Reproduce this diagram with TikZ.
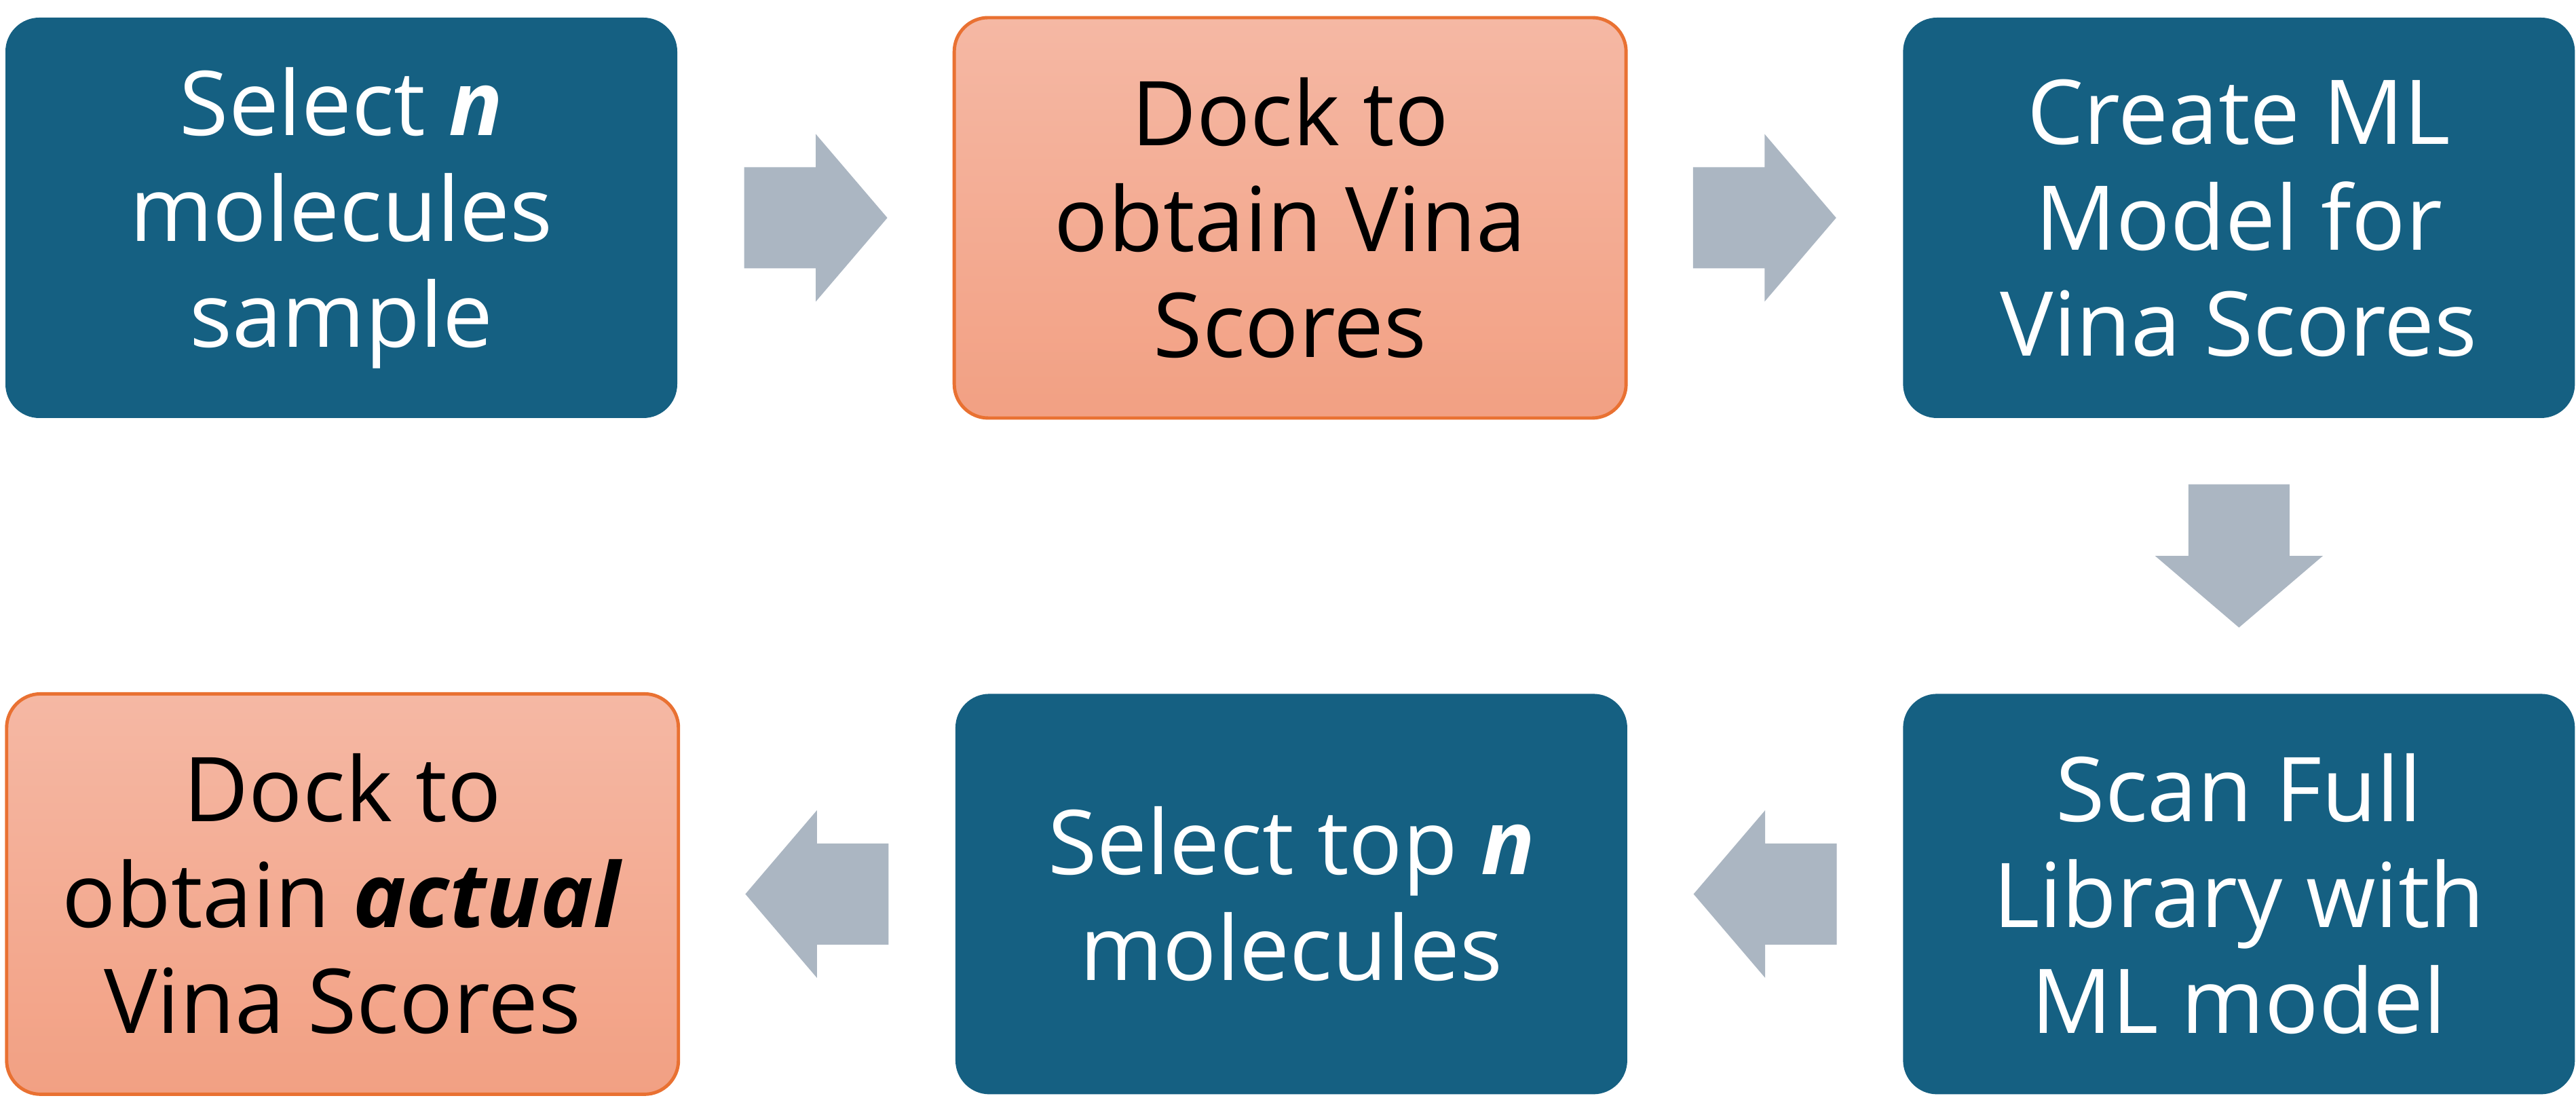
\documentclass[tikz,border=0pt]{standalone}
\usepackage{fontspec}
\setmainfont{Open Sans}
\usepackage{tikz}
\usetikzlibrary{positioning, calc}
\definecolor{sblue}{HTML}{156082}
\definecolor{sorange}{HTML}{E97132}
\definecolor{speachtop}{HTML}{F5B8A4}
\definecolor{speachbot}{HTML}{F2A083}
\definecolor{sgray}{HTML}{ABB6C2}

% block arrow half way between two nodes, #3 = direction
\newcommand{\blockarrow}[3]{%
  \begin{scope}[shift={($(#1)!0.5!(#2)$)}, rotate=#3]
    \fill[sgray] (-1.055,-0.745) -- (0,-0.745) -- (0,-1.235) -- (1.055,0)
      -- (0,1.235) -- (0,0.745) -- (-1.055,0.745) -- cycle;
  \end{scope}}

\begin{document}
\begin{tikzpicture}[
  node distance=4.05cm,
  box/.style={rectangle, rounded corners=0.5cm, minimum width=9.9cm,
              minimum height=5.9cm, align=center,
              font=\fontsize{37.5}{44.4}\selectfont},
  task/.style={box, fill=sblue, text=white},
  dock/.style={box, draw=sorange, line width=1.4pt,
               top color=speachtop, bottom color=speachbot, text=black},
]
  \useasboundingbox (0,0) rectangle (37.96,16.40);

  \node[task] (sample) at (5.03,13.19) {Select \textbf{\textit{n}}\\molecules\\sample};
  \node[dock, right=of sample] (dock)   {Dock to\\obtain Vina\\Scores};
  \node[task, right=of dock]   (model)  {Create ML\\Model for\\Vina Scores};
  \node[task, below=of model]  (scan)   {Scan Full\\Library with\\ML model};
  \node[task, left=of scan]    (top)    {Select top \textbf{\textit{n}}\\molecules};
  \node[dock, left=of top]     (actual) {Dock to\\obtain \textbf{\textit{actual}}\\Vina Scores};

  \blockarrow{sample}{dock}{0}
  \blockarrow{dock}{model}{0}
  \blockarrow{model}{scan}{-90}
  \blockarrow{scan}{top}{180}
  \blockarrow{top}{actual}{180}
\end{tikzpicture}
\end{document}
